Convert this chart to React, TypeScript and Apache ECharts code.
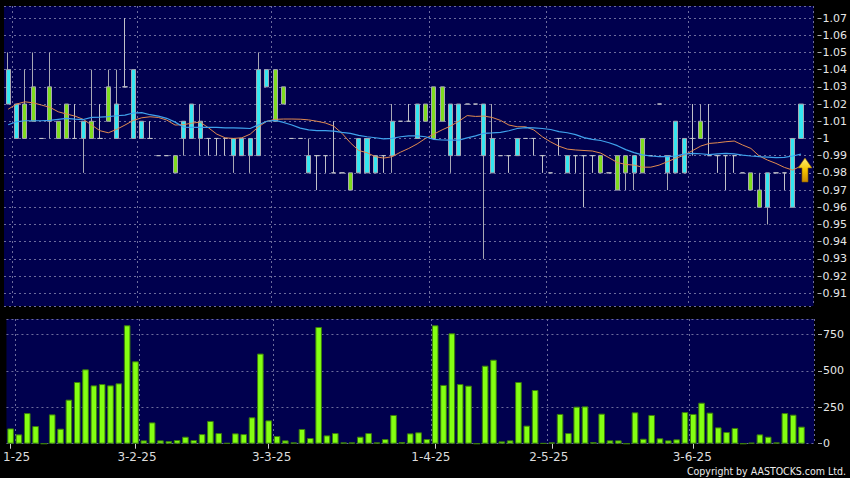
import React, { useEffect, useRef } from 'react';
import * as echarts from 'echarts';

// [open, close, low, high] per trading day
const candles: number[][] = [
  [1.02, 1.04, 1.02, 1.05], [1.00, 1.02, 1.00, 1.02], [1.02, 1.00, 1.00, 1.04], [1.03, 1.01, 1.01, 1.05],
  [1.00, 1.00, 1.00, 1.00], [1.03, 1.01, 1.00, 1.05], [1.01, 1.00, 1.00, 1.01], [1.02, 1.00, 1.00, 1.02],
  [1.00, 1.00, 1.00, 1.02], [1.00, 1.01, 0.98, 1.01], [1.01, 1.00, 1.00, 1.04], [1.00, 1.00, 1.00, 1.02],
  [1.03, 1.01, 1.01, 1.04], [1.00, 1.02, 1.00, 1.04], [1.03, 1.03, 1.03, 1.07], [1.00, 1.04, 1.00, 1.04],
  [1.00, 1.01, 1.00, 1.01], [1.00, 1.00, 1.00, 1.01], [0.99, 0.99, 0.99, 0.99], [0.99, 0.99, 0.99, 0.99],
  [0.99, 0.98, 0.98, 0.99], [1.00, 1.01, 0.99, 1.01], [1.00, 1.02, 1.00, 1.02], [1.00, 1.01, 0.99, 1.02],
  [1.00, 1.00, 0.99, 1.00], [1.00, 1.00, 0.99, 1.00], [1.00, 1.00, 0.99, 1.00], [0.99, 1.00, 0.98, 1.00],
  [0.99, 1.00, 0.99, 1.00], [0.99, 1.00, 0.98, 1.00], [0.99, 1.04, 0.99, 1.05], [1.03, 1.04, 1.03, 1.04],
  [1.04, 1.01, 1.01, 1.04], [1.03, 1.02, 1.02, 1.03], [1.00, 1.00, 1.00, 1.00], [1.00, 1.00, 1.00, 1.00],
  [0.98, 0.99, 0.98, 1.00], [0.99, 0.99, 0.97, 0.99], [0.99, 0.99, 0.98, 0.99], [0.98, 0.98, 0.98, 1.01],
  [0.98, 0.98, 0.98, 0.98], [0.98, 0.97, 0.97, 0.98], [0.98, 1.00, 0.98, 1.00], [0.98, 1.00, 0.98, 1.00],
  [0.98, 0.99, 0.98, 0.99], [0.99, 0.99, 0.98, 0.99], [0.99, 1.01, 0.98, 1.02], [1.01, 1.01, 1.01, 1.01],
  [1.01, 1.01, 1.01, 1.02], [1.00, 1.02, 1.00, 1.02], [1.02, 1.01, 1.01, 1.02], [1.03, 1.00, 1.00, 1.03],
  [1.03, 1.01, 1.01, 1.03], [0.99, 1.02, 0.98, 1.02], [0.99, 1.02, 0.99, 1.02], [1.02, 1.02, 1.02, 1.02],
  [1.02, 1.02, 1.02, 1.02], [0.99, 1.02, 0.93, 1.02], [0.98, 1.00, 0.98, 1.02], [0.99, 0.99, 0.99, 0.99],
  [0.99, 0.99, 0.98, 0.99], [0.99, 1.00, 0.99, 1.00], [1.00, 1.00, 1.00, 1.00], [1.00, 1.00, 0.99, 1.00],
  [0.99, 0.99, 0.98, 0.99], [0.98, 0.98, 0.98, 0.98], [1.00, 1.00, 0.99, 1.00], [0.98, 0.99, 0.98, 0.99],
  [0.99, 0.99, 0.98, 0.99], [0.99, 0.99, 0.96, 0.99], [0.99, 0.99, 0.98, 0.99], [0.99, 0.98, 0.98, 0.99],
  [0.98, 0.98, 0.98, 0.98], [0.99, 0.97, 0.97, 0.99], [0.99, 0.98, 0.97, 0.99], [0.98, 0.99, 0.97, 0.99],
  [1.00, 0.98, 0.98, 1.00], [0.99, 0.99, 0.99, 0.99], [1.02, 1.02, 1.02, 1.02], [0.98, 0.99, 0.97, 0.99],
  [0.98, 1.01, 0.98, 1.01], [0.98, 1.00, 0.98, 1.00], [1.00, 1.00, 0.99, 1.02], [1.01, 1.00, 1.00, 1.02],
  [0.99, 0.99, 0.99, 1.02], [0.99, 0.99, 0.98, 0.99], [0.99, 0.99, 0.97, 0.99], [0.99, 0.99, 0.98, 0.99],
  [0.98, 0.98, 0.98, 0.98], [0.98, 0.97, 0.97, 0.98], [0.97, 0.96, 0.96, 0.98], [0.96, 0.98, 0.95, 0.98],
  [0.98, 0.98, 0.98, 0.98], [0.98, 0.98, 0.97, 0.98], [0.96, 1.00, 0.96, 1.00], [1.00, 1.02, 1.00, 1.02],
];

// volume (thousands)
const volumes: number[] = [
  105, 64, 210, 121, 0, 201, 103, 302, 423, 510, 400, 409, 400, 414, 812, 565,
  23, 146, 23, 18, 25, 48, 25, 66, 156, 73, 5, 71, 66, 181, 618, 160,
  53, 23, 9, 101, 39, 800, 57, 73, 9, 9, 48, 73, 9, 32, 197, 11,
  71, 78, 32, 812, 403, 757, 409, 398, 0, 535, 576, 16, 23, 423,
  124, 368, 4, 9, 204, 73, 254, 256, 11, 206, 23, 23, 0, 215, 34, 197,
  37, 23, 30, 217, 204, 281, 213, 112, 80, 108, 0, 7, 64, 48, 9, 210, 199, 117,
];

// short moving average (orange)
const maShort: number[] = [
  1.0170, 1.0200, 1.0213, 1.0207, 1.0194, 1.0181, 1.0155, 1.0142, 1.0130, 1.0111, 1.0078, 1.0045,
  1.0033, 1.0053, 1.0078, 1.0105, 1.0120, 1.0126, 1.0122, 1.0107, 1.0078, 1.0080, 1.0089, 1.0095,
  1.0062, 1.0025, 1.0004, 1.0000, 1.0004, 1.0025, 1.0068, 1.0100, 1.0111, 1.0113, 1.0113, 1.0112,
  1.0108, 1.0100, 1.0090, 1.0072, 1.0030, 0.9975, 0.9930, 0.9917, 0.9894, 0.9886, 0.9894, 0.9920,
  0.9942, 0.9968, 1.0000, 1.0025, 1.0050, 1.0072, 1.0100, 1.0133, 1.0128, 1.0130, 1.0122, 1.0105,
  1.0078, 1.0068, 1.0068, 1.0049, 1.0010, 0.9980, 0.9955, 0.9938, 0.9933, 0.9930, 0.9927, 0.9915,
  0.9888, 0.9860, 0.9849, 0.9845, 0.9833, 0.9833, 0.9845, 0.9865, 0.9885, 0.9903, 0.9929, 0.9956,
  0.9971, 0.9975, 0.9981, 0.9985, 0.9962, 0.9942, 0.9898, 0.9874, 0.9855, 0.9832, 0.9816, 0.9840,
];

// long moving average (blue)
const maLong: number[] = [
  1.0080, 1.0097, 1.0103, 1.0103, 1.0103, 1.0105, 1.0111, 1.0117, 1.0112, 1.0110, 1.0123, 1.0124,
  1.0127, 1.0132, 1.0136, 1.0148, 1.0150, 1.0138, 1.0130, 1.0117, 1.0095, 1.0066, 1.0064, 1.0064,
  1.0064, 1.0064, 1.0062, 1.0062, 1.0060, 1.0058, 1.0080, 1.0100, 1.0105, 1.0093, 1.0078, 1.0060,
  1.0050, 1.0046, 1.0045, 1.0043, 1.0035, 1.0030, 1.0018, 1.0010, 1.0004, 0.9998, 1.0000, 1.0010,
  1.0015, 1.0015, 1.0010, 0.9995, 0.9991, 0.9990, 0.9990, 1.0003, 1.0015, 1.0030, 1.0032, 1.0035,
  1.0045, 1.0058, 1.0063, 1.0062, 1.0058, 1.0052, 1.0040, 1.0033, 1.0022, 1.0005, 0.9995, 0.9988,
  0.9975, 0.9958, 0.9935, 0.9918, 0.9905, 0.9898, 0.9894, 0.9894, 0.9898, 0.9909, 0.9913, 0.9911,
  0.9906, 0.9910, 0.9913, 0.9910, 0.9903, 0.9898, 0.9894, 0.9891, 0.9888, 0.9890, 0.9898, 0.9909,
];

// date tick labels and the day index they sit on
const xLabelIndex: number[] = [0, 15, 31, 51, 65, 82];
const xLabelText: string[] = ['1-25', '3-2-25', '3-3-25', '1-4-25', '2-5-25', '3-6-25'];

const lastPrice = 0.9817;

export default function App() {
  const ref = useRef<HTMLDivElement>(null);

  useEffect(() => {
    document.body.style.margin = '0';
    document.body.style.background = '#000';
    if (!ref.current) return;
    const chart = echarts.init(ref.current, undefined, { renderer: 'svg' });

    const n = candles.length + 1;
    const cats = Array.from({ length: n }, (_, i) => String(i));
    const gridLineIdx = [1, 16, 32, 51, 65, 82];
    const labelShift = [12, 3, 6, -8.6, -6, -2];
    const gridColor = '#6c6c9c';
    const splitStyle = { color: gridColor, type: [2, 3] as any, width: 1 };

    const rich: Record<string, any> = {};
    xLabelIndex.forEach((_, k) => {
      const s = labelShift[k];
      rich['l' + k] = {
        fontSize: 12,
        color: '#dcdcdc',
        fontFamily: 'DejaVu Sans',
        padding: s >= 0 ? [0, 0, 0, s] : [0, -s, 0, 0],
      };
    });

    const option: any = {
      animation: false,
      backgroundColor: '#000000',
      textStyle: { fontFamily: 'DejaVu Sans' },
      grid: [
        { left: 4, top: 6, width: 810, height: 300, show: true, backgroundColor: '#00004e', borderWidth: 0 },
        { left: 4, top: 319, width: 810, height: 124.7, show: true, backgroundColor: '#00004e', borderWidth: 0 },
      ],
      xAxis: [
        {
          type: 'category', gridIndex: 0, data: cats, boundaryGap: true,
          axisLine: { show: false }, axisTick: { show: false }, axisLabel: { show: false },
          splitLine: { show: true, interval: (i: number) => gridLineIdx.includes(i), lineStyle: splitStyle },
        },
        {
          type: 'category', gridIndex: 1, data: cats, boundaryGap: true,
          axisLine: { show: false },
          axisTick: {
            show: true, alignWithLabel: true, length: 5,
            interval: (i: number) => xLabelIndex.includes(i),
            lineStyle: { color: '#cfcfcf' },
          },
          axisLabel: {
            show: true, margin: 7,
            interval: (i: number) => xLabelIndex.includes(i),
            formatter: (v: string) => {
              const k = xLabelIndex.indexOf(Number(v));
              return k >= 0 ? `{l${k}|${xLabelText[k]}}` : '';
            },
            rich,
          },
          splitLine: { show: true, interval: (i: number) => gridLineIdx.includes(i), lineStyle: splitStyle },
        },
      ],
      yAxis: [
        {
          type: 'value', gridIndex: 0, position: 'right', min: 0.9026, max: 1.077, splitNumber: 17,
          offset: 4,
          axisLine: { show: false },
          axisTick: { show: true, length: 4, lineStyle: { color: '#b0b0b0' } },
          axisLabel: { color: '#e6e6e6', fontSize: 11, margin: 5, showMinLabel: false, showMaxLabel: false, fontFamily: 'DejaVu Sans' },
          splitLine: { show: true, lineStyle: splitStyle },
        },
        {
          type: 'value', gridIndex: 1, position: 'right', min: 0, max: 855, interval: 250,
          offset: 4,
          axisLine: { show: false },
          axisTick: { show: true, length: 4, lineStyle: { color: '#b0b0b0' } },
          axisLabel: { color: '#e6e6e6', fontSize: 11, margin: 5, showMaxLabel: false, fontFamily: 'DejaVu Sans' },
          splitLine: { show: true, lineStyle: splitStyle },
        },
      ],
      series: [
        {
          type: 'candlestick', xAxisIndex: 0, yAxisIndex: 0, data: candles, barWidth: 4.6,
          itemStyle: {
            color: '#34e6f0', color0: '#7fdc1e',
            borderColor: '#a8a8b4', borderColor0: '#a8a8b4', borderColorDoji: '#c0c0c8', borderWidth: 1,
          },
          markPoint: {
            silent: true,
            data: [{
              coord: [candles.length - 1, lastPrice],
              symbol: 'path://M7,0 L14,10 L10,10 L10,24 L4,24 L4,10 L0,10 Z',
              symbolSize: [14, 24],
              symbolOffset: [4, 0],
              itemStyle: {
                color: new echarts.graphic.LinearGradient(0, 0, 0, 1, [
                  { offset: 0, color: '#fff07a' },
                  { offset: 0.5, color: '#f5c400' },
                  { offset: 1, color: '#c88a00' },
                ]),
                borderColor: '#8a6000', borderWidth: 0.6,
              },
              label: { show: false },
            }],
          },
        },
        {
          type: 'line', xAxisIndex: 0, yAxisIndex: 0, data: maShort, symbol: 'none',
          lineStyle: { color: '#e08a50', width: 1 }, z: 3,
        },
        {
          type: 'line', xAxisIndex: 0, yAxisIndex: 0, data: maLong, symbol: 'none',
          lineStyle: { color: '#3fa2ec', width: 1.2 }, z: 3,
        },
        {
          type: 'bar', xAxisIndex: 1, yAxisIndex: 1, data: volumes, barWidth: 6.6,
          itemStyle: { color: '#84ff12', borderColor: '#3b7d0c', borderWidth: 1 },
        },
      ],
      graphic: [
        {
          type: 'text', right: 4, top: 465,
          style: {
            text: 'Copyright by AASTOCKS.com Ltd.',
            fill: '#ececec',
            font: '10.5px "DejaVu Sans Condensed", "DejaVu Sans"',
          },
        },
      ],
    };

    chart.setOption(option);
    return () => chart.dispose();
  }, []);

  return <div ref={ref} style={{ width: 850, height: 478, background: '#000' }} />;
}
